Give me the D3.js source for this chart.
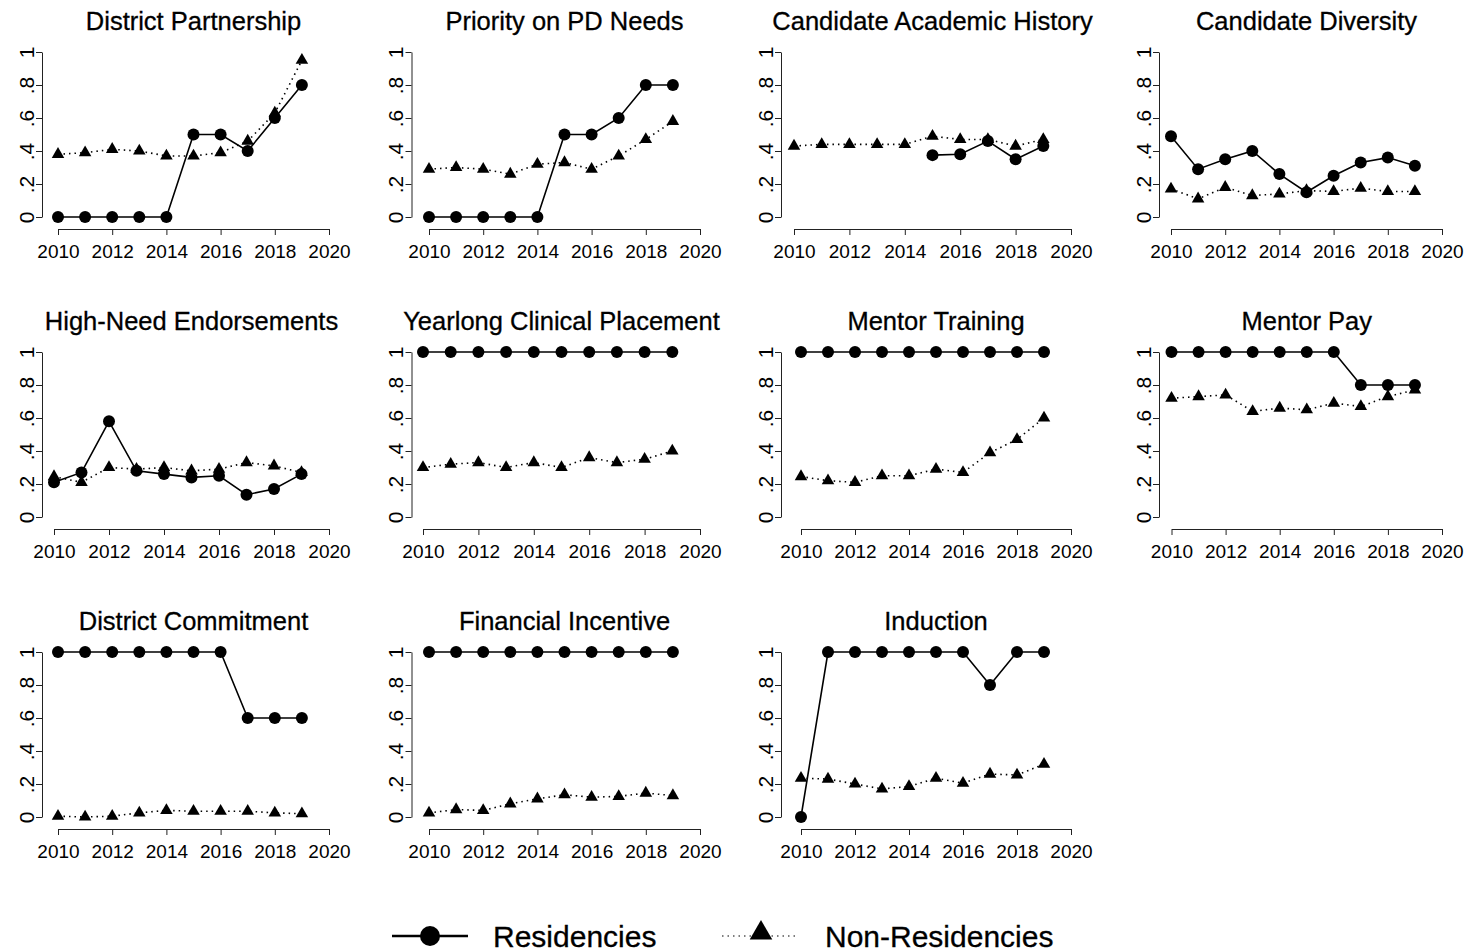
<!DOCTYPE html>
<meta charset="utf-8">
<style>
    body {
        margin: 0;
        background: #fff;
        font-family: "Liberation Sans", Arial, Helvetica, sans-serif;
    }

    .axis path,
    .axis line {
        fill: none;
        stroke: #222;
        stroke-width: 1;
    }

    .axis text {
        fill: #000;
        font-family: "Liberation Sans", Arial, Helvetica, sans-serif;
    }
</style>

<body>
    <script src="https://d3js.org/d3.v7.min.js"></script>
    <script>

        // ---- data ----
        var years = [2010, 2011, 2012, 2013, 2014, 2015, 2016, 2017, 2018, 2019];

        var titles = [
            "District Partnership", "Priority on PD Needs", "Candidate Academic History", "Candidate Diversity",
            "High-Need Endorsements", "Yearlong Clinical Placement", "Mentor Training", "Mentor Pay",
            "District Commitment", "Financial Incentive", "Induction"
        ];

        var residencies = [
            [0, 0, 0, 0, 0, .5, .5, .4, .6, .8],
            [0, 0, 0, 0, 0, .5, .5, .6, .8, .8],
            [null, null, null, null, null, .375, .38, .46, .35, .43],
            [.49, .29, .35, .40, .26, .15, .25, .33, .36, .31],
            [.21, .27, .58, .28, .26, .24, .25, .135, .17, .26],
            [1, 1, 1, 1, 1, 1, 1, 1, 1, 1],
            [1, 1, 1, 1, 1, 1, 1, 1, 1, 1],
            [1, 1, 1, 1, 1, 1, 1, .8, .8, .8],
            [1, 1, 1, 1, 1, 1, 1, .6, .6, .6],
            [1, 1, 1, 1, 1, 1, 1, 1, 1, 1],
            [0, 1, 1, 1, 1, 1, 1, .8, 1, 1]
        ];

        var nonResidencies = [
            [.38, .39, .41, .40, .37, .37, .39, .46, .63, .95],
            [.29, .30, .29, .26, .32, .33, .29, .37, .47, .58],
            [.43, .44, .44, .44, .44, .49, .47, .47, .43, .47],
            [.17, .11, .18, .13, .14, .16, .155, .175, .155, .155],
            [.245, .21, .30, .29, .30, .28, .29, .33, .31, .27],
            [.30, .32, .33, .30, .33, .30, .36, .33, .35, .40],
            [.245, .22, .21, .25, .25, .29, .27, .39, .47, .60],
            [.72, .73, .74, .64, .66, .65, .69, .67, .73, .77],
            [.005, 0, .005, .025, .04, .035, .035, .035, .025, .02],
            [.025, .045, .04, .08, .11, .135, .12, .125, .145, .13],
            [.235, .23, .20, .17, .185, .235, .205, .26, .255, .32]
        ];

        var xTicks = [2010, 2012, 2014, 2016, 2018, 2020];
        var yTicks = [0, .2, .4, .6, .8, 1];
        var legendLabels = ["Residencies", "Non-Residencies"];

        // ---- layout (pixels) ----
        var W = 1472, H = 952;
        var rowStep = 300;
        var colYAxis = [42, 411.5, 781, 1159];   // y axis line per column
        var colX2020 = [329, 700, 1071, 1442];   // right end of x axis per column
        var panelX2010 = [58, 429, 794, 1171, 54, 423, 801, 1171.5, 58, 429, 801];

        var svg = d3.select("body")
            .append("svg")
            .attr("width", W)
            .attr("height", H);

        var fmtY = function (d) {
            if (d === 0) return "0";
            if (d === 1) return "1";
            return d3.format(".1f")(d).replace(/^0/, "");
        };

        titles.forEach(function (title, i) {
            var row = Math.floor(i / 4), col = i % 4;
            var off = row * rowStep;

            var x = d3.scaleLinear()
                .domain([2010, 2020])
                .range([panelX2010[i], colX2020[col]]);
            var y = d3.scaleLinear()
                .domain([0, 1])
                .range([217 + off, 52 + off]);

            var g = svg.append("g");

            // title, centred on 2015
            g.append("text")
                .attr("x", x(2015))
                .attr("y", 30 + off)
                .attr("text-anchor", "middle")
                .attr("font-size", "25.5px")
                .attr("stroke", "#000")
                .attr("stroke-width", 0.3)
                .text(title);

            // x axis
            var xAx = g.append("g")
                .attr("class", "axis")
                .attr("transform", "translate(0," + (229 + off) + ")")
                .call(d3.axisBottom(x)
                    .tickValues(xTicks)
                    .tickFormat(d3.format("d"))
                    .tickSizeInner(6)
                    .tickSizeOuter(0)
                    .tickPadding(9.5));
            xAx.attr("font-size", null);
            xAx.selectAll(".tick text").style("font-size", "19px");

            // y axis with rotated labels (R style)
            var yAx = g.append("g")
                .attr("class", "axis")
                .attr("transform", "translate(" + colYAxis[col] + ",0)")
                .call(d3.axisLeft(y)
                    .tickValues(yTicks)
                    .tickFormat(fmtY)
                    .tickSizeInner(6)
                    .tickSizeOuter(0));
            yAx.attr("font-size", null);
            yAx.selectAll(".tick text")
                .style("font-size", "21px")
                .attr("x", null)
                .attr("dy", null)
                .attr("text-anchor", "middle")
                .attr("transform", "translate(-8.5,0) rotate(-90)");

            var res = years.map(function (yr, k) { return { year: yr, v: residencies[i][k] }; });
            var non = years.map(function (yr, k) { return { year: yr, v: nonResidencies[i][k] }; });

            var line = d3.line()
                .defined(function (d) { return d.v != null; })
                .x(function (d) { return x(d.year); })
                .y(function (d) { return y(d.v); });

            // non-residencies: dotted + triangles
            g.append("path")
                .datum(non)
                .attr("d", line)
                .attr("fill", "none")
                .attr("stroke", "#000")
                .attr("stroke-width", 1.6)
                .attr("stroke-dasharray", "1.5,4");

            g.selectAll(".tri")
                .data(non.filter(function (d) { return d.v != null; }))
                .enter().append("path")
                .attr("d", d3.symbol(d3.symbolTriangle, 68))
                .attr("transform", function (d) { return "translate(" + x(d.year) + "," + y(d.v) + ")"; })
                .attr("fill", "#000");

            // residencies: solid + circles
            g.append("path")
                .datum(res)
                .attr("d", line)
                .attr("fill", "none")
                .attr("stroke", "#000")
                .attr("stroke-width", 1.6);

            g.selectAll(".dot")
                .data(res.filter(function (d) { return d.v != null; }))
                .enter().append("circle")
                .attr("cx", function (d) { return x(d.year); })
                .attr("cy", function (d) { return y(d.v); })
                .attr("r", 6)
                .attr("fill", "#000");
        });

        // legend
        var leg = svg.append("g");
        leg.append("line")
            .attr("x1", 392).attr("x2", 468)
            .attr("y1", 936).attr("y2", 936)
            .attr("stroke", "#000").attr("stroke-width", 2.5);
        leg.append("circle")
            .attr("cx", 430).attr("cy", 936).attr("r", 10)
            .attr("fill", "#000");
        leg.append("text")
            .attr("x", 493).attr("y", 947)
            .attr("font-size", "30px")
            .attr("stroke", "#000")
            .attr("stroke-width", 0.3)
            .text(legendLabels[0]);

        leg.append("line")
            .attr("x1", 722).attr("x2", 798)
            .attr("y1", 936).attr("y2", 936)
            .attr("stroke", "#000").attr("stroke-width", 1.2)
            .attr("stroke-dasharray", "1.5,4");
        leg.append("path")
            .attr("d", d3.symbol(d3.symbolTriangle, 220))
            .attr("transform", "translate(761,933)")
            .attr("fill", "#000");
        leg.append("text")
            .attr("x", 825).attr("y", 947)
            .attr("font-size", "30px")
            .attr("stroke", "#000")
            .attr("stroke-width", 0.3)
            .text(legendLabels[1]);

    </script>
</body>
